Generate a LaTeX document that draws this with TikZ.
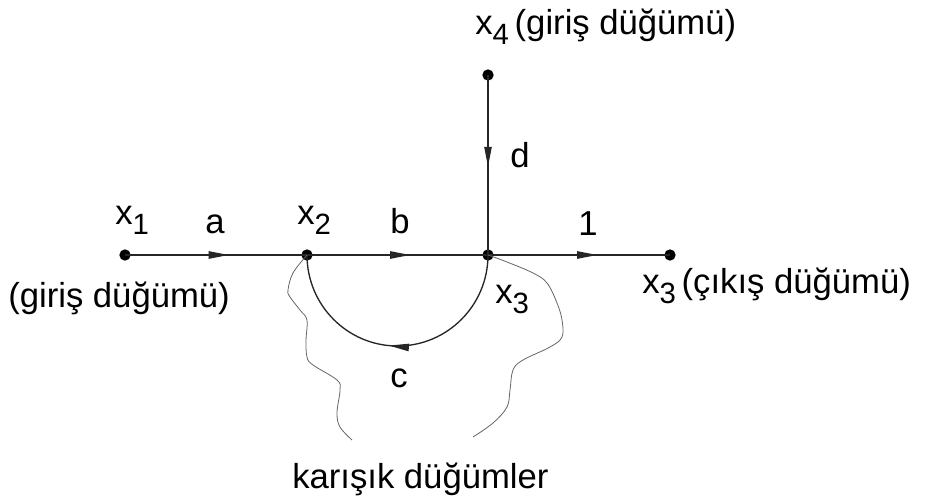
\documentclass[tikz,border=0pt]{standalone}
\usepackage{fontspec}
\setmainfont{Liberation Sans}
\usetikzlibrary{arrows.meta,decorations.markings}
\newcommand{\xsub}[1]{x\raisebox{-7.5pt}{\fontsize{22}{22}\selectfont #1}}
\tikzset{
  dot/.style={circle,fill=black,inner sep=0pt,minimum size=8.5pt},
  lbl/.style={anchor=base west,inner sep=0pt,font=\fontsize{26}{31}\selectfont},
  branch/.style={line width=1pt,draw=black!85},
  midarrow/.style={postaction={decorate},decoration={markings,
     mark=at position #1 with {\arrow{Triangle[length=15pt,width=5.5pt]}}}},
  wavy/.style={line width=0.6pt,draw=black!60}
}
\begin{document}
\begin{tikzpicture}[x=0.75pt,y=-0.75pt]
\useasboundingbox[fill=white] (0,0) rectangle (936,503);
% nodes
\node[dot] (x1) at (125,255) {};
\node[dot] (x2) at (307,255) {};
\node[dot] (x3) at (488,255) {};
\node[dot] (x4) at (488,75) {};
\node[dot] (xo) at (670,255) {};
% branches
\draw[branch,midarrow=0.57] (x1.center) -- (x2.center);
\draw[branch,midarrow=0.57] (x2.center) -- (x3.center);
\draw[branch,midarrow=0.6] (x3.center) -- (xo.center);
\draw[branch,midarrow=0.51] (x4.center) -- (x3.center);
\draw[branch,midarrow=0.53] (x3.center) arc[start angle=0,end angle=180,x radius=90.5,y radius=91];
% wavy boundary
\draw[wavy] plot[smooth,tension=0.6] coordinates {(307,255) (293,273) (288,290) (290,297) (300,310) (307,320) (306,340) (307,357) (313,365) (337,380) (340,390) (337,413) (340,427) (352,440)};
\draw[wavy] plot[smooth,tension=0.6] coordinates {(488,255) (507,262) (533,273) (547,283) (557,303) (562,320) (562,337) (550,347) (523,360) (513,370) (510,390) (507,407) (493,423) (473,437)};
% labels
\node[lbl] (l1) at (115,224) {\xsub{1}};
\node[lbl] (la) at (205,233) {a};
\node[lbl] (l2) at (297,224) {\xsub{2}};
\node[lbl] (lb) at (390,233) {b};
\node[lbl] (l1b) at (578,235) {1};
\node[lbl] (ld) at (510,167) {d};
\node[lbl] (lc) at (390,387) {c};
\node[lbl] (l3) at (495,303) {\xsub{3}};
\node[lbl] (l4) at (475,35) {\xsub{4}\,(giriş düğümü)};
\node[lbl] (lo) at (642,293) {\xsub{3}\,(çıkış düğümü)};
\node[lbl] (lin) at (8,307) {(giriş düğümü)};
\node[lbl] (lk) at (292,488) {karışık düğümler};
\end{tikzpicture}
\end{document}
